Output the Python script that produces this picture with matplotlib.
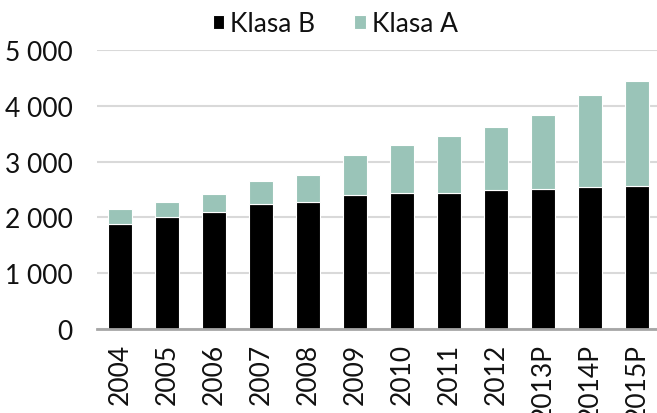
import numpy as np
import matplotlib.pyplot as plt

lata = ["2004", "2005", "2006", "2007", "2008", "2009", "2010", "2011", "2012",
        "2013P", "2014P", "2015P"]
klasa_b = [1880, 2000, 2097, 2235, 2270, 2396, 2432, 2432, 2486, 2503, 2539, 2557]
razem = [2150, 2275, 2420, 2658, 2765, 3110, 3292, 3453, 3614, 3840, 4199, 4444]
klasa_a = [r - b for r, b in zip(razem, klasa_b)]

plt.rcParams['font.family'] = ['Lato', 'DejaVu Sans']

fig = plt.figure(figsize=(6.57, 4.14), dpi=100)
ax = fig.add_axes([0.147, 0.203, 0.853, 0.674])

x = np.arange(len(lata))
ax.bar(x, klasa_b, width=0.5, color='black', edgecolor='white', linewidth=0.8,
       label='Klasa B', zorder=3)
ax.bar(x, klasa_a, width=0.5, bottom=klasa_b, color='#9AC4B8', edgecolor='white',
       linewidth=0.8, label='Klasa A', zorder=3)

ax.set_ylim(0, 5000)
ax.set_xlim(-0.5, 11.42)
ax.set_yticks(range(0, 5001, 1000))
ax.set_yticklabels([f"{v:,}".replace(",", " ") for v in range(0, 5001, 1000)])
ax.set_xticks(x)
ax.set_xticklabels(lata, rotation=90)
ax.tick_params(axis='both', length=0, labelsize=19, colors='#111111')
ax.tick_params(axis='y', pad=17)
ax.tick_params(axis='x', pad=10)

ax.grid(axis='y', color='#D9D9D9', linewidth=1.5, zorder=0)
for s in ['top', 'right', 'left']:
    ax.spines[s].set_visible(False)
ax.spines['bottom'].set_color('#A6A6A6')
ax.spines['bottom'].set_linewidth(2)
ax.spines['bottom'].set_zorder(4)

leg = fig.legend(loc='center', bbox_to_anchor=(0.51, 0.94), ncol=2, frameon=False,
                 fontsize=19, handlelength=0.45, handleheight=0.45, handletextpad=0.2,
                 columnspacing=1.5)
for t in leg.get_texts():
    t.set_color('#111111')

fig.savefig('out.png', dpi=100)
